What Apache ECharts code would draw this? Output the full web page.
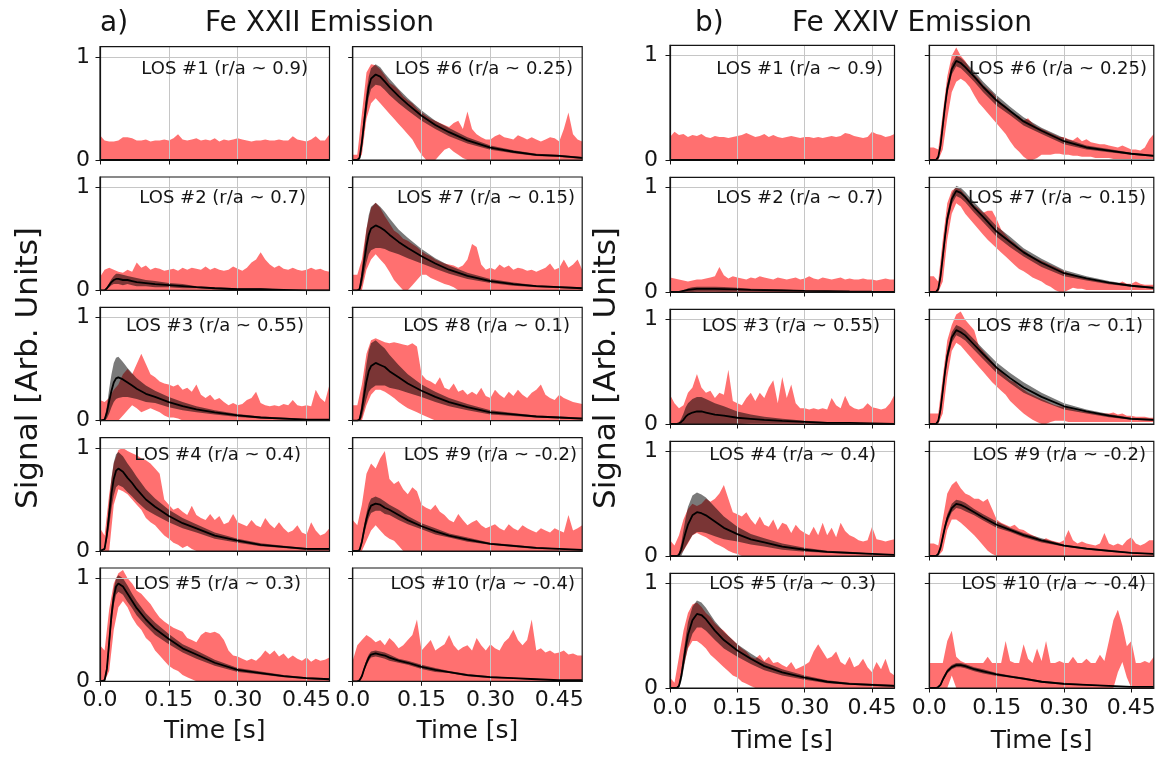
<!DOCTYPE html>
<html><head><meta charset="utf-8">
<script src="https://cdn.jsdelivr.net/npm/echarts@6/dist/echarts.min.js"></script>
<style>html,body{margin:0;padding:0;background:#fff}#c{width:1167px;height:760px}</style>
</head><body><div id="c"></div>
<script>
// ---- time grids ----
const T = [0.00,0.01,0.02,0.03,0.04,0.05,0.06,0.07,0.08,0.09,
 0.10,0.11,0.12,0.13,0.14,0.15,0.16,0.17,0.18,0.19,
 0.20,0.21,0.22,0.23,0.24,0.25,0.26,0.27,0.28,0.29,
 0.30,0.31,0.32,0.33,0.34,0.35,0.36,0.37,0.38,0.39,
 0.40,0.41,0.42,0.43,0.44,0.45,0.46,0.47,0.48,0.49,
 0.50];
const TM = [0,0.01,0.015,0.02,0.025, 0.03,0.035,0.04,0.05,0.06, 0.07,0.08,0.10,0.12,0.15, 0.18,0.21,0.25,0.30,0.35, 0.40,0.45,0.50];
const X_TICKS = [0, 0.15, 0.30, 0.45];
const X_TICK_LABELS = ['0.0', '0.15', '0.30', '0.45'];
const Y_TICKS = [0, 1];
const Y_TICK_LABELS = ['0', '1'];
const LOS_NAMES = ['LOS #1 (r/a ~ 0.9)','LOS #2 (r/a ~ 0.7)','LOS #3 (r/a ~ 0.55)','LOS #4 (r/a ~ 0.4)','LOS #5 (r/a ~ 0.3)',
 'LOS #6 (r/a ~ 0.25)','LOS #7 (r/a ~ 0.15)','LOS #8 (r/a ~ 0.1)','LOS #9 (r/a ~ -0.2)','LOS #10 (r/a ~ -0.4)'];

// ---- a) Fe XXII : measured band (upper / lower) on T ----
const a1_hi = [0.24,0.19,0.18,0.18,0.19,0.22,0.22,0.21,0.19,0.19,
 0.20,0.18,0.19,0.19,0.20,0.19,0.21,0.25,0.20,0.19,
 0.20,0.21,0.19,0.20,0.19,0.21,0.18,0.20,0.19,0.20,
 0.21,0.20,0.19,0.18,0.19,0.19,0.20,0.19,0.19,0.20,
 0.19,0.19,0.23,0.20,0.19,0.18,0.20,0.23,0.19,0.19,
 0.25];
const a2_hi = [0.13,0.20,0.22,0.20,0.18,0.17,0.20,0.18,0.27,0.22,
 0.24,0.20,0.22,0.21,0.19,0.20,0.21,0.19,0.22,0.20,
 0.22,0.21,0.20,0.23,0.20,0.22,0.20,0.19,0.20,0.23,
 0.21,0.19,0.22,0.27,0.30,0.37,0.30,0.25,0.22,0.24,
 0.21,0.20,0.22,0.20,0.19,0.20,0.22,0.20,0.21,0.19,
 0.18];
const a3_hi = [0.20,0.18,0.22,0.30,0.35,0.45,0.50,0.45,0.55,0.65,
 0.55,0.45,0.42,0.38,0.36,0.35,0.33,0.35,0.30,0.32,
 0.28,0.35,0.25,0.22,0.25,0.20,0.22,0.18,0.15,0.17,
 0.15,0.16,0.20,0.22,0.28,0.17,0.15,0.14,0.15,0.14,
 0.16,0.15,0.20,0.15,0.14,0.15,0.14,0.30,0.22,0.18,
 0.35];
const a3_lo = [0,0,0,0,0,0.05,0.10,0.15,0.12,0.08,
 0.10,0.12,0.10,0.08,0.05,0.03,0.03,0.02,0,0,
 0,0,0,0,0,0,0,0,0,0,
 0,0,0,0,0,0,0,0,0,0,
 0,0,0,0,0,0,0,0,0,0,
 0];
const a4_hi = [0.22,0.15,0.55,0.85,0.98,1.00,0.97,0.95,0.93,0.90,
 0.88,0.85,0.80,0.75,0.50,0.45,0.40,0.42,0.38,0.35,
 0.44,0.35,0.32,0.30,0.36,0.30,0.34,0.26,0.28,0.36,
 0.28,0.26,0.24,0.30,0.25,0.23,0.32,0.26,0.22,0.28,
 0.22,0.18,0.20,0.25,0.18,0.16,0.28,0.20,0.15,0.17,
 0.22];
const a4_lo = [0,0,0,0.45,0.60,0.58,0.55,0.50,0.45,0.40,
 0.32,0.28,0.25,0.20,0.15,0.12,0.08,0.06,0.03,0.05,
 0.02,0,0,0,0,0,0,0,0,0,
 0,0,0,0,0,0,0,0,0,0,
 0,0,0,0,0,0,0,0,0,0,
 0];
const a5_hi = [0.35,0.30,0.70,0.95,1.05,1.08,1.00,0.95,0.88,0.85,
 0.80,0.75,0.68,0.62,0.58,0.55,0.52,0.50,0.48,0.42,
 0.40,0.38,0.45,0.48,0.47,0.48,0.46,0.40,0.30,0.25,
 0.24,0.22,0.20,0.22,0.20,0.24,0.30,0.26,0.30,0.24,
 0.27,0.22,0.25,0.22,0.20,0.23,0.19,0.22,0.20,0.21,
 0.23];
const a5_lo = [0,0,0.10,0.50,0.72,0.78,0.72,0.62,0.55,0.50,
 0.42,0.38,0.30,0.25,0.20,0.15,0.12,0.10,0.06,0.04,
 0.02,0,0,0,0,0,0,0,0,0,
 0,0,0,0,0,0,0,0,0,0,
 0,0,0,0,0,0,0,0,0,0,
 0];
const a6_hi = [0.05,0.05,0.45,0.85,0.93,0.92,0.88,0.82,0.75,0.72,
 0.68,0.62,0.58,0.55,0.50,0.46,0.43,0.40,0.38,0.36,
 0.34,0.32,0.36,0.38,0.30,0.47,0.30,0.25,0.22,0.20,
 0.20,0.23,0.25,0.22,0.21,0.20,0.24,0.22,0.20,0.22,
 0.20,0.18,0.20,0.22,0.21,0.18,0.30,0.46,0.25,0.20,
 0.18];
const a6_lo = [0,0,0.05,0.40,0.55,0.60,0.55,0.50,0.45,0.40,
 0.35,0.30,0.25,0.20,0.12,0.05,0,0,0,0.05,
 0.10,0.12,0.08,0.05,0.02,0,0,0,0,0,
 0,0,0,0,0,0,0,0,0,0,
 0,0,0,0,0,0,0,0,0,0,
 0];
const a7_hi = [0.15,0.15,0.30,0.60,0.80,0.85,0.80,0.72,0.65,0.58,
 0.55,0.50,0.48,0.45,0.42,0.38,0.35,0.33,0.30,0.28,
 0.26,0.25,0.24,0.22,0.24,0.30,0.45,0.42,0.25,0.20,
 0.22,0.20,0.25,0.22,0.24,0.20,0.22,0.21,0.19,0.20,
 0.18,0.20,0.22,0.26,0.20,0.22,0.30,0.22,0.25,0.30,
 0.20];
const a7_lo = [0,0,0,0.20,0.30,0.35,0.30,0.25,0.18,0.10,
 0.05,0,0,0.05,0.10,0.15,0.15,0.12,0.10,0.08,
 0.06,0.05,0.03,0,0,0,0,0,0,0,
 0,0,0,0,0,0,0,0,0,0,
 0,0,0,0,0,0,0,0,0,0,
 0];
const a8_hi = [0.15,0.15,0.35,0.65,0.78,0.80,0.78,0.76,0.75,0.76,
 0.75,0.74,0.73,0.75,0.72,0.45,0.40,0.38,0.35,0.42,
 0.32,0.30,0.36,0.28,0.30,0.25,0.28,0.25,0.32,0.24,
 0.22,0.30,0.25,0.22,0.28,0.24,0.30,0.25,0.22,0.27,
 0.30,0.35,0.25,0.22,0.20,0.25,0.22,0.20,0.18,0.17,
 0.16];
const a8_lo = [0,0,0,0.15,0.25,0.30,0.30,0.28,0.25,0.22,
 0.18,0.15,0.12,0.10,0.08,0.06,0.04,0.02,0,0,
 0,0,0,0,0,0,0,0,0,0,
 0,0,0,0,0,0,0,0,0,0,
 0,0,0,0,0,0,0,0,0,0,
 0];
const a9_hi = [0.30,0.25,0.45,0.75,0.85,0.80,0.90,0.97,0.70,0.65,
 0.68,0.60,0.55,0.62,0.58,0.45,0.42,0.40,0.45,0.38,
 0.35,0.30,0.28,0.36,0.30,0.25,0.28,0.30,0.25,0.22,
 0.24,0.26,0.22,0.20,0.26,0.22,0.20,0.25,0.22,0.20,
 0.18,0.22,0.20,0.18,0.22,0.20,0.18,0.35,0.20,0.22,
 0.25];
const a9_lo = [0,0,0,0.10,0.20,0.25,0.20,0.15,0.12,0.10,
 0.05,0,0,0,0,0,0,0,0,0,
 0,0,0,0,0,0,0,0,0,0,
 0,0,0,0,0,0,0,0,0,0,
 0,0,0,0,0,0,0,0,0,0,
 0];
const a10_hi = [0.20,0.35,0.40,0.45,0.42,0.38,0.40,0.35,0.42,0.38,
 0.32,0.35,0.40,0.45,0.60,0.30,0.35,0.40,0.30,0.33,
 0.36,0.45,0.35,0.30,0.33,0.35,0.30,0.42,0.35,0.30,
 0.36,0.32,0.30,0.38,0.42,0.50,0.40,0.35,0.40,0.60,
 0.30,0.32,0.28,0.30,0.27,0.28,0.30,0.26,0.27,0.25,
 0.25];

// ---- a) model mean / spread on TM ----
const a1_m  = [0,0,0,0,0, 0,0,0,0,0, 0,0,0,0,0, 0,0,0,0,0, 0,0,0];
const a2_m  = [0,0,0.02,0.05,0.08, 0.10,0.11,0.11,0.10,0.10, 0.09,0.08,0.07,0.06,0.05, 0.04,0.03,0.02,0.01,0.01, 0.005,0,0];
const a2_sd = [0,0,0.01,0.02,0.03, 0.04,0.05,0.05,0.05,0.04, 0.04,0.04,0.03,0.03,0.02, 0.02,0.01,0.01,0.01,0.01, 0,0,0];
const a3_m  = [0,0.01,0.08,0.19,0.29, 0.37,0.41,0.42,0.40,0.37, 0.34,0.31,0.26,0.23,0.18, 0.14,0.11,0.08,0.05,0.03, 0.02,0.01,0.01];
const a3_sd = [0,0.01,0.06,0.12,0.16, 0.19,0.20,0.20,0.17,0.14, 0.12,0.10,0.08,0.06,0.05, 0.04,0.03,0.02,0.015,0.01, 0.01,0.005,0.005];
const a4_m  = [0,0.02,0.16,0.36,0.56, 0.70,0.78,0.80,0.77,0.71, 0.66,0.60,0.50,0.43,0.34, 0.27,0.22,0.15,0.10,0.06, 0.04,0.02,0.02];
const a4_sd = [0,0.01,0.06,0.12,0.15, 0.16,0.16,0.16,0.15,0.14, 0.13,0.12,0.10,0.08,0.06, 0.05,0.04,0.03,0.02,0.015, 0.01,0.01,0.01];
const a5_m  = [0,0.01,0.12,0.38,0.64, 0.82,0.92,0.95,0.92,0.85, 0.78,0.71,0.60,0.51,0.41, 0.32,0.26,0.18,0.11,0.08, 0.05,0.03,0.02];
const a5_sd = [0,0.01,0.05,0.08,0.08, 0.08,0.08,0.08,0.08,0.08, 0.07,0.07,0.06,0.06,0.05, 0.04,0.04,0.03,0.02,0.015, 0.01,0.01,0.01];
const a6_m  = [0,0,0.02,0.17,0.37, 0.56,0.71,0.79,0.83,0.81, 0.76,0.71,0.62,0.54,0.43, 0.34,0.27,0.19,0.12,0.08, 0.05,0.04,0.02];
const a6_sd = [0,0,0.02,0.06,0.08, 0.10,0.10,0.10,0.10,0.09, 0.08,0.08,0.07,0.06,0.05, 0.04,0.04,0.03,0.02,0.015, 0.01,0.01,0.01];
const a7_m  = [0,0,0.01,0.13,0.28, 0.43,0.54,0.60,0.63,0.61, 0.58,0.54,0.47,0.41,0.33, 0.26,0.20,0.14,0.09,0.06, 0.04,0.03,0.02];
const a7_sd = [0,0,0.02,0.08,0.12, 0.16,0.19,0.21,0.22,0.20, 0.18,0.16,0.12,0.10,0.07, 0.05,0.04,0.03,0.02,0.015, 0.01,0.01,0.01];
const a8_m  = [0,0,0.01,0.11,0.25, 0.38,0.48,0.53,0.56,0.54, 0.52,0.48,0.42,0.36,0.29, 0.23,0.18,0.13,0.08,0.06, 0.04,0.03,0.02];
const a8_sd = [0,0,0.02,0.08,0.13, 0.17,0.20,0.22,0.22,0.20, 0.18,0.16,0.12,0.09,0.06, 0.05,0.04,0.03,0.02,0.015, 0.01,0.01,0.01];
const a9_m  = [0,0,0.01,0.09,0.21, 0.31,0.39,0.44,0.46,0.45, 0.42,0.40,0.35,0.30,0.24, 0.19,0.15,0.11,0.07,0.05, 0.03,0.02,0.01];
const a9_sd = [0,0,0.01,0.03,0.05, 0.06,0.07,0.07,0.07,0.06, 0.06,0.05,0.05,0.04,0.03, 0.03,0.02,0.02,0.01,0.01, 0.01,0.005,0.005];
const a10_m = [0,0,0.01,0.05,0.12, 0.18,0.23,0.26,0.27,0.26, 0.25,0.23,0.20,0.18,0.14, 0.11,0.09,0.06,0.04,0.03, 0.02,0.01,0.01];
const a10_sd= [0,0,0.01,0.02,0.02, 0.03,0.03,0.03,0.03,0.03, 0.03,0.03,0.02,0.02,0.02, 0.02,0.01,0.01,0.01,0.005, 0.005,0,0];

// ---- b) Fe XXIV : measured band on T ----
const b1_hi = [0.22,0.27,0.24,0.25,0.22,0.24,0.23,0.25,0.22,0.21,
 0.23,0.22,0.22,0.21,0.22,0.23,0.24,0.26,0.24,0.22,
 0.23,0.25,0.22,0.24,0.22,0.21,0.22,0.23,0.22,0.21,
 0.22,0.22,0.21,0.22,0.21,0.22,0.23,0.22,0.23,0.26,
 0.25,0.23,0.22,0.21,0.22,0.27,0.25,0.24,0.22,0.23,
 0.25];
const b2_hi = [0.14,0.13,0.12,0.11,0.10,0.11,0.12,0.12,0.13,0.14,
 0.15,0.24,0.16,0.13,0.15,0.14,0.13,0.12,0.14,0.13,
 0.15,0.14,0.13,0.12,0.14,0.13,0.12,0.13,0.14,0.12,
 0.13,0.15,0.13,0.12,0.14,0.13,0.12,0.13,0.14,0.12,
 0.13,0.12,0.12,0.13,0.12,0.12,0.11,0.12,0.13,0.12,
 0.12];
const b3_hi = [0.28,0.20,0.15,0.18,0.30,0.35,0.48,0.35,0.30,0.32,
 0.25,0.30,0.28,0.52,0.22,0.20,0.18,0.25,0.30,0.22,
 0.30,0.25,0.35,0.42,0.20,0.45,0.25,0.38,0.20,0.15,
 0.15,0.14,0.15,0.14,0.15,0.14,0.25,0.18,0.15,0.27,
 0.18,0.15,0.14,0.15,0.20,0.16,0.15,0.14,0.15,0.20,
 0.28];
const b4_hi = [0.15,0.10,0.20,0.35,0.45,0.50,0.48,0.50,0.55,0.52,
 0.55,0.60,0.68,0.55,0.42,0.40,0.38,0.42,0.35,0.30,
 0.38,0.30,0.28,0.35,0.25,0.32,0.30,0.22,0.30,0.25,
 0.22,0.20,0.28,0.20,0.32,0.20,0.27,0.18,0.32,0.24,
 0.20,0.18,0.15,0.14,0.15,0.28,0.16,0.15,0.14,0.15,
 0.16];
const b4_lo = [0,0,0,0.05,0.12,0.20,0.22,0.20,0.18,0.15,
 0.12,0.10,0.08,0.05,0.03,0.02,0,0,0,0,
 0,0,0,0,0,0,0,0,0,0,
 0,0,0,0,0,0,0,0,0,0,
 0,0,0,0,0,0,0,0,0,0,
 0];
const b5_hi = [0.10,0.05,0.30,0.55,0.72,0.80,0.82,0.78,0.72,0.68,
 0.62,0.58,0.55,0.50,0.46,0.42,0.38,0.35,0.30,0.28,
 0.32,0.26,0.30,0.24,0.25,0.22,0.20,0.25,0.18,0.20,
 0.22,0.25,0.35,0.42,0.35,0.28,0.30,0.35,0.25,0.22,
 0.30,0.20,0.22,0.28,0.20,0.15,0.25,0.18,0.28,0.15,
 0.12];
const b5_lo = [0,0,0,0.20,0.38,0.45,0.45,0.42,0.38,0.32,
 0.28,0.24,0.20,0.16,0.12,0.10,0.06,0.04,0.02,0,
 0,0,0,0,0,0,0,0,0,0,
 0,0,0,0,0,0,0,0,0,0,
 0,0,0,0,0,0,0,0,0,0,
 0];
const b6_hi = [0.12,0.12,0.10,0.45,0.80,1.00,1.08,1.00,0.95,0.88,
 0.82,0.78,0.72,0.68,0.65,0.60,0.55,0.52,0.48,0.44,
 0.42,0.38,0.40,0.35,0.32,0.30,0.28,0.26,0.24,0.22,
 0.22,0.20,0.19,0.22,0.18,0.20,0.17,0.16,0.15,0.15,
 0.14,0.13,0.12,0.14,0.12,0.10,0.10,0.09,0.12,0.20,
 0.25];
const b6_lo = [0,0,0,0.10,0.40,0.65,0.75,0.78,0.75,0.70,
 0.62,0.55,0.50,0.45,0.40,0.35,0.30,0.25,0.18,0.12,
 0.08,0.03,0,0,0.02,0.05,0.05,0.05,0.06,0.06,
 0.05,0.05,0.04,0.04,0.03,0.03,0.03,0.02,0.02,0.02,
 0.02,0.01,0.01,0.01,0.01,0.01,0.01,0.01,0.01,0.01,
 0.01];
const b7_hi = [0.15,0.15,0.10,0.50,0.85,0.97,1.00,0.98,0.93,0.88,
 0.83,0.80,0.76,0.78,0.78,0.70,0.60,0.55,0.50,0.47,
 0.43,0.40,0.37,0.34,0.32,0.30,0.28,0.26,0.24,0.22,
 0.20,0.18,0.17,0.15,0.14,0.13,0.12,0.11,0.10,0.10,
 0.09,0.09,0.08,0.10,0.08,0.08,0.10,0.08,0.07,0.07,
 0.07];
const b7_lo = [0,0,0,0.10,0.50,0.75,0.85,0.82,0.75,0.70,
 0.65,0.60,0.55,0.50,0.46,0.42,0.38,0.34,0.30,0.26,
 0.22,0.20,0.17,0.14,0.12,0.10,0.07,0.05,0.02,0,
 0,0.02,0.04,0.03,0.03,0.02,0.02,0.02,0.02,0.02,
 0.02,0.02,0.02,0.02,0.02,0.02,0.02,0.02,0.02,0.02,
 0.02];
const b8_hi = [0.10,0.10,0.10,0.45,0.80,0.95,1.05,1.08,1.00,0.95,
 0.90,0.75,0.70,0.65,0.60,0.55,0.50,0.46,0.42,0.40,
 0.36,0.33,0.30,0.28,0.26,0.24,0.22,0.20,0.18,0.17,
 0.16,0.15,0.14,0.13,0.12,0.12,0.11,0.10,0.10,0.10,
 0.10,0.11,0.09,0.10,0.08,0.08,0.07,0.07,0.07,0.06,
 0.06];
const b8_lo = [0,0,0,0.10,0.45,0.70,0.78,0.75,0.70,0.65,
 0.60,0.55,0.50,0.45,0.40,0.36,0.32,0.28,0.22,0.18,
 0.14,0.10,0.07,0.04,0.02,0,0,0.02,0.03,0.03,
 0.03,0.02,0.02,0.02,0.02,0.02,0.02,0.02,0.02,0.02,
 0.02,0.02,0.02,0.02,0.02,0.02,0.02,0.02,0.02,0.02,
 0.02];
const b9_hi = [0.12,0.12,0.10,0.35,0.60,0.68,0.72,0.65,0.60,0.58,
 0.55,0.55,0.52,0.55,0.45,0.35,0.32,0.30,0.28,0.30,
 0.26,0.25,0.22,0.20,0.18,0.15,0.17,0.15,0.14,0.13,
 0.15,0.25,0.15,0.12,0.14,0.12,0.11,0.10,0.12,0.22,
 0.12,0.10,0.12,0.10,0.15,0.18,0.12,0.10,0.12,0.15,
 0.15];
const b9_lo = [0,0,0,0.05,0.25,0.35,0.35,0.32,0.28,0.24,
 0.20,0.15,0.10,0.05,0.02,0,0,0,0,0,
 0,0,0,0,0,0,0,0,0,0,
 0,0,0,0,0,0,0,0,0,0,
 0,0,0,0,0,0,0,0,0,0,
 0];
const b10_hi = [0.24,0.24,0.24,0.24,0.45,0.55,0.30,0.26,0.24,0.24,
 0.24,0.24,0.24,0.30,0.24,0.24,0.24,0.45,0.26,0.24,
 0.24,0.42,0.28,0.24,0.38,0.26,0.45,0.24,0.24,0.26,
 0.24,0.24,0.30,0.24,0.24,0.28,0.24,0.24,0.32,0.26,
 0.45,0.65,0.75,0.60,0.40,0.45,0.24,0.24,0.26,0.24,
 0.30];
const b10_lo = [0,0,0,0,0,0.12,0,0,0,0,
 0,0,0,0,0,0,0,0,0,0,
 0,0,0,0,0,0,0,0,0,0,
 0,0,0,0,0,0,0,0,0,0,
 0,0,0.15,0.25,0.10,0,0,0,0,0,
 0];

// ---- b) model mean / spread on TM ----
const b1_m  = [0,0,0,0,0, 0,0,0,0,0, 0,0,0,0,0, 0,0,0,0,0, 0,0,0];
const b2_m  = [0,0,0,0,0.005, 0.01,0.015,0.02,0.025,0.03, 0.03,0.03,0.03,0.028,0.025, 0.02,0.018,0.015,0.01,0.008, 0.005,0.003,0.002];
const b2_sd = [0,0,0,0,0.005, 0.01,0.01,0.015,0.02,0.02, 0.02,0.02,0.02,0.02,0.015, 0.01,0.01,0.01,0.005,0.005, 0,0,0];
const b3_m  = [0,0,0,0.005,0.02, 0.04,0.07,0.09,0.11,0.12, 0.12,0.11,0.09,0.08,0.06, 0.05,0.04,0.03,0.02,0.01, 0.01,0.005,0];
const b3_sd = [0,0,0,0.01,0.03, 0.06,0.09,0.11,0.13,0.14, 0.14,0.13,0.11,0.09,0.06, 0.04,0.03,0.02,0.01,0.01, 0.005,0,0];
const b4_m  = [0,0,0,0.01,0.06, 0.15,0.23,0.30,0.39,0.42, 0.41,0.39,0.33,0.27,0.21, 0.16,0.13,0.09,0.06,0.04, 0.03,0.02,0.01];
const b4_sd = [0,0,0,0.02,0.06, 0.10,0.14,0.17,0.19,0.19, 0.18,0.17,0.14,0.11,0.07, 0.05,0.04,0.03,0.02,0.01, 0.01,0.005,0.005];
const b5_m  = [0,0,0,0.02,0.11, 0.25,0.39,0.51,0.65,0.71, 0.70,0.66,0.55,0.46,0.36, 0.28,0.21,0.15,0.10,0.06, 0.04,0.03,0.02];
const b5_sd = [0,0,0,0.02,0.05, 0.08,0.10,0.12,0.13,0.13, 0.12,0.11,0.09,0.08,0.06, 0.05,0.04,0.03,0.02,0.015, 0.01,0.01,0.01];
const b6_m  = [0,0,0,0.03,0.14, 0.33,0.52,0.68,0.87,0.95, 0.93,0.89,0.80,0.70,0.57, 0.47,0.37,0.28,0.18,0.12, 0.09,0.06,0.04];
const b6_sd = [0,0,0,0.02,0.04, 0.05,0.05,0.05,0.05,0.05, 0.05,0.05,0.05,0.05,0.05, 0.04,0.04,0.03,0.03,0.02, 0.015,0.01,0.01];
const b7_m  = [0,0,0,0.03,0.15, 0.34,0.53,0.70,0.89,0.97, 0.95,0.91,0.81,0.72,0.58, 0.48,0.38,0.28,0.18,0.13, 0.09,0.06,0.04];
const b7_sd = [0,0,0,0.02,0.04, 0.05,0.05,0.05,0.05,0.05, 0.05,0.05,0.05,0.05,0.05, 0.05,0.04,0.04,0.03,0.02, 0.015,0.01,0.01];
const b8_m  = [0,0,0,0.03,0.14, 0.32,0.50,0.65,0.83,0.90, 0.88,0.85,0.76,0.67,0.54, 0.44,0.35,0.26,0.17,0.12, 0.08,0.05,0.04];
const b8_sd = [0,0,0,0.02,0.04, 0.05,0.05,0.05,0.05,0.05, 0.05,0.05,0.05,0.05,0.05, 0.05,0.05,0.04,0.03,0.02, 0.015,0.01,0.01];
const b9_m  = [0,0,0,0.02,0.08, 0.18,0.28,0.36,0.46,0.50, 0.49,0.47,0.42,0.37,0.30, 0.25,0.20,0.15,0.10,0.07, 0.05,0.03,0.02];
const b9_sd = [0,0,0,0.01,0.02, 0.03,0.03,0.04,0.04,0.04, 0.04,0.04,0.03,0.03,0.03, 0.02,0.02,0.02,0.01,0.01, 0.01,0.005,0.005];
const b10_m = [0,0,0,0.01,0.03, 0.08,0.12,0.16,0.20,0.22, 0.22,0.21,0.18,0.16,0.13, 0.11,0.09,0.06,0.04,0.03, 0.02,0.01,0.01];
const b10_sd= [0,0,0,0.01,0.01, 0.02,0.02,0.02,0.02,0.02, 0.02,0.02,0.02,0.02,0.015, 0.01,0.01,0.01,0.01,0.005, 0.005,0,0];

// ---- panel list ----
const PANELS = [
 {g:'a',col:0,row:0,name:LOS_NAMES[0],hi:a1_hi,lo:null,m:a1_m,sd:null},
 {g:'a',col:0,row:1,name:LOS_NAMES[1],hi:a2_hi,lo:null,m:a2_m,sd:a2_sd},
 {g:'a',col:0,row:2,name:LOS_NAMES[2],hi:a3_hi,lo:a3_lo,m:a3_m,sd:a3_sd},
 {g:'a',col:0,row:3,name:LOS_NAMES[3],hi:a4_hi,lo:a4_lo,m:a4_m,sd:a4_sd},
 {g:'a',col:0,row:4,name:LOS_NAMES[4],hi:a5_hi,lo:a5_lo,m:a5_m,sd:a5_sd},
 {g:'a',col:1,row:0,name:LOS_NAMES[5],hi:a6_hi,lo:a6_lo,m:a6_m,sd:a6_sd},
 {g:'a',col:1,row:1,name:LOS_NAMES[6],hi:a7_hi,lo:a7_lo,m:a7_m,sd:a7_sd},
 {g:'a',col:1,row:2,name:LOS_NAMES[7],hi:a8_hi,lo:a8_lo,m:a8_m,sd:a8_sd},
 {g:'a',col:1,row:3,name:LOS_NAMES[8],hi:a9_hi,lo:a9_lo,m:a9_m,sd:a9_sd},
 {g:'a',col:1,row:4,name:LOS_NAMES[9],hi:a10_hi,lo:null,m:a10_m,sd:a10_sd},
 {g:'b',col:0,row:0,name:LOS_NAMES[0],hi:b1_hi,lo:null,m:b1_m,sd:null},
 {g:'b',col:0,row:1,name:LOS_NAMES[1],hi:b2_hi,lo:null,m:b2_m,sd:b2_sd},
 {g:'b',col:0,row:2,name:LOS_NAMES[2],hi:b3_hi,lo:null,m:b3_m,sd:b3_sd},
 {g:'b',col:0,row:3,name:LOS_NAMES[3],hi:b4_hi,lo:b4_lo,m:b4_m,sd:b4_sd},
 {g:'b',col:0,row:4,name:LOS_NAMES[4],hi:b5_hi,lo:b5_lo,m:b5_m,sd:b5_sd},
 {g:'b',col:1,row:0,name:LOS_NAMES[5],hi:b6_hi,lo:b6_lo,m:b6_m,sd:b6_sd},
 {g:'b',col:1,row:1,name:LOS_NAMES[6],hi:b7_hi,lo:b7_lo,m:b7_m,sd:b7_sd},
 {g:'b',col:1,row:2,name:LOS_NAMES[7],hi:b8_hi,lo:b8_lo,m:b8_m,sd:b8_sd},
 {g:'b',col:1,row:3,name:LOS_NAMES[8],hi:b9_hi,lo:b9_lo,m:b9_m,sd:b9_sd},
 {g:'b',col:1,row:4,name:LOS_NAMES[9],hi:b10_hi,lo:b10_lo,m:b10_m,sd:b10_sd}
];

// ---- layout (pixels) ----
const FONT = '"DejaVu Sans", "Liberation Sans", sans-serif';
const INK = '#151515';
const GROUPS = {
  a: {lefts:[100,352.7], width:229.5, bottoms:[160,290.3,420.6,551,681.3], height:113.3,
      labelRight:[[308,306,304,301,301],[573,575,570,577,575]], xMargin:8, yMargin:10, nameGap:38,
      title:['a)','Fe XXII Emission'], titleX:[100,205], ylabX:28.5},
  b: {lefts:[670,929.3], width:224.5, bottoms:[160,292,424,556,688], height:114.7,
      labelRight:[[883,883,880,876,876],[1147,1146,1143,1146,1146]], xMargin:9, yMargin:12, nameGap:41,
      title:['b)','Fe XXIV Emission'], titleX:[695,792], ylabX:607}
};
const LOS_Y = [69,198,326.5,455,584];
const RED = 'rgba(255,0,0,0.56)';
const GRAY = 'rgba(0,0,0,0.52)';

function lookup(vals, labels, v){ for (let i=0;i<vals.length;i++) if (Math.abs(vals[i]-v)<1e-9) return labels[i]; return ''; }

function bandSeries(k, rows, fill, z){
  return {
    type:'custom', xAxisIndex:k, yAxisIndex:k, silent:true, z:z, animation:false,
    data: rows, encode:{x:0, y:[1,2]},
    renderItem: function(params, api){
      if (params.dataIndexInside !== 0) return null;
      const n = params.dataInsideLength, up = [], down = [];
      for (let i=0;i<n;i++){
        const t = api.value(0,i);
        up.push(api.coord([t, api.value(2,i)]));
        down.push(api.coord([t, api.value(1,i)]));
      }
      return {type:'polygon', shape:{points: up.concat(down.reverse())}, style:{fill: fill, stroke:null}};
    }
  };
}

const grids=[], xAxes=[], yAxes=[], series=[], graphics=[];
PANELS.forEach(function(p,k){
  const G = GROUPS[p.g];
  const left = G.lefts[p.col], bottom = G.bottoms[p.row];
  const isBottom = p.row===4, isLeft = p.col===0;
  grids.push({left:left, top:bottom-G.height, width:G.width, height:G.height, show:true,
    borderColor:INK, borderWidth:1.2, backgroundColor:'transparent', z:4});
  xAxes.push({type:'value', gridIndex:k, min:0, max:0.5, interval:0.15, z:2,
    axisLine:{show:true, onZero:false, lineStyle:{color:INK, width:1.2}},
    axisTick:{show:true, customValues:X_TICKS, length:4.5, lineStyle:{color:INK, width:1}},
    axisLabel:{show:isBottom, customValues:X_TICKS, margin:G.xMargin, fontSize:22, fontFamily:FONT, color:INK,
      formatter:function(v){return lookup(X_TICKS, X_TICK_LABELS, v);}},
    splitLine:{show:true, lineStyle:{color:'#c6c6c6', width:1}},
    name: isBottom ? 'Time [s]' : '', nameLocation:'middle', nameGap:G.nameGap,
    nameTextStyle:{fontSize:25, fontFamily:FONT, color:INK}
  });
  yAxes.push({type:'value', gridIndex:k, min:0, max:1.1, interval:1, z:2,
    axisLine:{show:true, onZero:false, lineStyle:{color:INK, width:1.2}},
    axisTick:{show:true, customValues:Y_TICKS, length:4.5, lineStyle:{color:INK, width:1}},
    axisLabel:{show:isLeft, customValues:Y_TICKS, margin:G.yMargin, fontSize:22, fontFamily:FONT, color:INK,
      formatter:function(v){return lookup(Y_TICKS, Y_TICK_LABELS, v);}},
    splitLine:{show:true, lineStyle:{color:'#c6c6c6', width:1}}
  });
  // measured band (red)
  const redRows = T.map(function(t,i){ return [t, p.lo ? p.lo[i] : 0, p.hi[i]]; });
  series.push(bandSeries(k, redRows, RED, 1));
  // model spread (gray)
  if (p.sd){
    const grayRows = TM.map(function(t,i){ return [t, Math.max(0, p.m[i]-p.sd[i]), p.m[i]+p.sd[i]]; });
    series.push(bandSeries(k, grayRows, GRAY, 1.5));
  }
  // model mean (black line)
  series.push({type:'line', xAxisIndex:k, yAxisIndex:k, data:TM.map(function(t,i){return [t,p.m[i]];}),
    symbol:'none', silent:true, z:3, animation:false, lineStyle:{color:'#000', width:1.8}});
  // LOS label
  graphics.push({type:'text', x:G.labelRight[p.col][p.row], y:LOS_Y[p.row], z:50, silent:true,
    style:{text:p.name, font:'18px '+FONT, fill:INK, align:'right', verticalAlign:'middle'}});
});

['a','b'].forEach(function(g){
  const G = GROUPS[g];
  graphics.push({type:'text', x:G.titleX[0], y:24, z:50, silent:true,
    style:{text:G.title[0], font:'28px '+FONT, fill:INK, align:'left', verticalAlign:'middle'}});
  graphics.push({type:'text', x:G.titleX[1], y:24, z:50, silent:true,
    style:{text:G.title[1], font:'28px '+FONT, fill:INK, align:'left', verticalAlign:'middle'}});
  graphics.push({type:'text', x:G.ylabX, y:368, rotation:Math.PI/2, z:50, silent:true,
    style:{text:'Signal [Arb. Units]', font:'31px '+FONT, fill:INK, align:'center', verticalAlign:'middle'}});
});

const chart = echarts.init(document.getElementById('c'), null, {renderer:'canvas'});
chart.setOption({
  animation:false,
  backgroundColor:'#ffffff',
  grid: grids, xAxis: xAxes, yAxis: yAxes, series: series, graphic: graphics
});
</script>
</body></html>
